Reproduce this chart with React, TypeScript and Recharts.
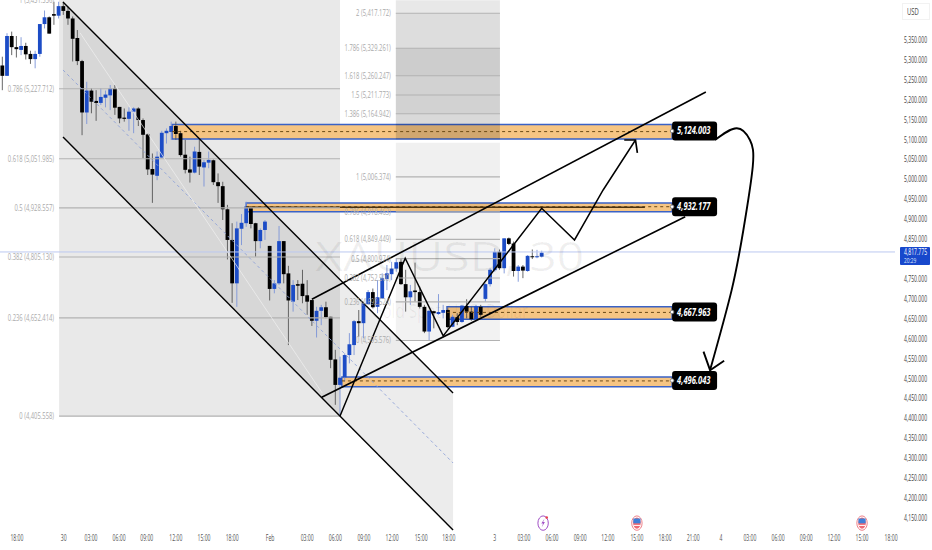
import React from 'react';
import {
  ComposedChart,
  Bar,
  Area,
  Line,
  XAxis,
  YAxis,
  ReferenceArea,
  ReferenceLine,
  ReferenceDot,
} from 'recharts';

// 30 minute candles
const opens = [5286,5260,5360,5332,5325,5335,5315,5302,5315,5390,5407,5415,5411,5435,5423,5404,5355,5297,5168,5223,5197,5192,5205,5211,5228,5182,5155,5152,5170,5178,5149,5113,5026,5009,5055,5116,5119,5134,5116,5062,5025,5017,5069,5030,5042,5048,4993,4983,4925,4848,4739,4876,4890,4930,4890,4845,4873,4833,4725,4739,4845,4764,4693,4737,4738,4709,4697,4645,4670,4679,4655,4548,4484,4503,4559,4584,4644,4639,4687,4717,4680,4701,4750,4762,4776,4793,4737,4704,4721,4717,4680,4618,4669,4662,4665,4672,4630,4654,4642,4682,4668,4649,4680,4700,4737,4772,4818,4777,4852,4839,4770,4781,4770,4807,4805,4806];
const highs = [5308,5367,5371,5360,5357,5343,5323,5323,5390,5424,5409,5446,5446,5446,5434,5409,5375,5300,5245,5229,5224,5229,5223,5237,5237,5182,5178,5181,5181,5181,5153,5116,5065,5070,5122,5128,5145,5145,5122,5099,5057,5082,5099,5049,5070,5050,5015,4994,4936,4890,4894,4913,4944,4932,4891,4877,4898,4833,4747,4883,4845,4783,4747,4747,4773,4747,4697,4680,4685,4693,4655,4572,4555,4563,4614,4647,4672,4693,4722,4726,4747,4764,4785,4793,4802,4802,4773,4735,4791,4731,4685,4672,4670,4712,4685,4676,4660,4664,4685,4699,4680,4685,4685,4739,4777,4827,4824,4852,4854,4844,4785,4785,4810,4824,4823,4821];
const lows = [5224,5260,5312,5306,5312,5301,5290,5279,5308,5379,5366,5388,5404,5413,5388,5296,5287,5111,5139,5166,5147,5187,5181,5174,5162,5141,5145,5122,5116,5134,5053,5011,4941,4998,5053,5090,5099,5099,5057,5015,4992,5015,5011,4982,5028,4986,4941,4898,4799,4690,4680,4835,4881,4877,4806,4827,4848,4696,4714,4735,4739,4584,4668,4697,4689,4660,4632,4603,4634,4651,4526,4434,4404,4492,4538,4559,4605,4601,4685,4676,4664,4701,4722,4747,4768,4735,4668,4685,4693,4676,4614,4595,4626,4660,4651,4626,4629,4634,4640,4651,4645,4645,4655,4693,4731,4768,4773,4764,4835,4756,4743,4752,4768,4800,4802,4804];
const closes = [5260,5360,5332,5327,5335,5314,5302,5315,5390,5407,5366,5411,5435,5423,5404,5353,5297,5168,5223,5195,5192,5207,5213,5228,5180,5153,5152,5170,5178,5149,5112,5025,5012,5057,5117,5122,5134,5114,5061,5024,5017,5070,5032,5043,5049,4993,4983,4925,4848,4739,4877,4891,4932,4888,4845,4873,4894,4725,4739,4845,4762,4696,4735,4733,4707,4693,4645,4670,4679,4654,4547,4484,4502,4559,4586,4644,4639,4689,4717,4679,4704,4752,4764,4776,4792,4737,4704,4719,4717,4680,4618,4670,4664,4667,4672,4629,4655,4642,4683,4668,4649,4682,4660,4737,4773,4818,4777,4852,4838,4770,4781,4771,4808,4805,4807,4816];

const priceTicks = [5350,5300,5250,5200,5150,5100,5050,5000,4950,4900,4850,4750,4700,4650,4600,4550,4500,4450,4400,4350,4300,4250,4200,4150];
const currentPrice = 4817.775;
const countdown = '20:29';

const timeTicks = [3.1,13.1,18.9,24.9,30.8,37,43,49,57.1,65,71,77.1,83.1,89.3,95.2,105,111.2,117.2,123.2,129.1,135.3,141.3,147.3,153.2,159.4,165.4,171.4,177.3,183.3,189.5];
const timeLabels = ['18:00','30','03:00','06:00','09:00','12:00','15:00','18:00','Feb','03:00','06:00','09:00','12:00','15:00','18:00','3','03:00','06:00','09:00','12:00','15:00','18:00','21:00','4','03:00','06:00','09:00','12:00','15:00','18:00'];

const leftFibLevels = [
  { price: 5451.556, text: '1 (5,451.556)' },
  { price: 5227.712, text: '0.786 (5,227.712)' },
  { price: 5051.985, text: '0.618 (5,051.985)' },
  { price: 4928.557, text: '0.5 (4,928.557)' },
  { price: 4805.13, text: '0.382 (4,805.130)' },
  { price: 4652.414, text: '0.236 (4,652.414)' },
  { price: 4405.558, text: '0 (4,405.558)' },
];
const rightFibLevels = [
  { price: 5417.172, text: '2 (5,417.172)' },
  { price: 5329.261, text: '1.786 (5,329.261)' },
  { price: 5260.247, text: '1.618 (5,260.247)' },
  { price: 5211.773, text: '1.5 (5,211.773)' },
  { price: 5164.942, text: '1.386 (5,164.942)' },
  { price: 5006.374, text: '1 (5,006.374)' },
  { price: 4918.463, text: '0.786 (4,918.463)' },
  { price: 4849.449, text: '0.618 (4,849.449)' },
  { price: 4800.974, text: '0.5 (4,800.974)' },
  { price: 4752.5, text: '0.382 (4,752.500)' },
  { price: 4692.524, text: '0.236 (4,692.524)' },
  { price: 4595.576, text: '0 (4,595.576)' },
];
const rightFibZones = [
  { from: 5417.172, to: 5450, alpha: 0.09 },
  { from: 5329.261, to: 5417.172, alpha: 0.135 },
  { from: 5260.247, to: 5329.261, alpha: 0.195 },
  { from: 5211.773, to: 5260.247, alpha: 0.175 },
  { from: 5164.942, to: 5211.773, alpha: 0.175 },
  { from: 5100, to: 5164.942, alpha: 0.15 },
  { from: 5006.374, to: 5092, alpha: 0.06 },
  { from: 4595.576, to: 5006.374, alpha: 0.05 },
];

const zones = [
  { start: 36.2, top: 5137.8, bottom: 5101.4, mid: 5120, labelPrice: 5121.5, text: '5,124.003' },
  { start: 52, top: 4940.7, bottom: 4918.9, mid: 4931.4, labelPrice: 4931.4, text: '4,932.177' },
  { start: 94.8, top: 4680.4, bottom: 4648.8, mid: 4666, labelPrice: 4667, text: '4,667.963' },
  { start: 72.4, top: 4503.9, bottom: 4479.5, mid: 4494, labelPrice: 4495, text: '4,496.043' },
];

const channelFill = [
  { i: 12.94, band: [5106.4, 5445.4] },
  { i: 96.1, band: [4119.7, 4463.7] },
];
const channelUpper = [{ x: 12.94, y: 5445.4 }, { x: 96.1, y: 4463.7 }];
const channelLower = [{ x: 12.94, y: 5106.4 }, { x: 96.1, y: 4119.7 }];
const channelMid = [{ x: 12.94, y: 5274.7 }, { x: 96.1, y: 4288 }];
const channelThin = [{ x: 16.6, y: 5367.5 }, { x: 68.2, y: 4463.7 }];
const wedgeUpper = [{ x: 66, y: 4699 }, { x: 150, y: 5219.4 }];
const wedgeLower = [{ x: 68.1, y: 4452.9 }, { x: 145.6, y: 4906.3 }];

const zigzag = [
  { i: 72, p: 4406 },
  { i: 85.9, p: 4802 },
  { i: 94, p: 4607 },
  { i: 115, p: 4927.4 },
  { i: 122, p: 4848 },
  { i: 128.1, p: 4973.4 },
  { i: 135, p: 5098.9 },
];
const zigzagHead = [{ i: 132.6, p: 5098.9 }, { i: 135, p: 5098.9 }, { i: 135.4, p: 5066.3 }];
const swing = [
  { i: 151.95, p: 5098.9 },
  { i: 156.6, p: 5128.3 },
  { i: 159.4, p: 5098.9 },
  { i: 160, p: 5032 },
  { i: 158, p: 4873 },
  { i: 155.5, p: 4722 },
  { i: 150.9, p: 4521 },
];
const swingHead = [{ i: 149.5, p: 4567.4 }, { i: 150.9, p: 4521 }, { i: 153.9, p: 4544.8 }];

const bolt = { i: 115.3, p: 4137 };
const flags = [{ i: 135.3, p: 4137 }, { i: 183.3, p: 4137 }];

const candleData = opens.map((o, i) => ({
  i,
  o,
  c: closes[i],
  range: [lows[i], highs[i]],
}));

const UP = '#1c4cc6';
const DOWN = '#000000';
const FIB = '#b2b2b2';
const BLUE_EDGE = '#3a62c6';
const X_MIN = -0.497;
const X_MAX = 190.33;
const Y_MIN = 4119.7;
const Y_MAX = 5450.4;

function Candle(props: any) {
  const { x, y, width, height, payload } = props;
  if (height == null || !payload) return null;
  const [low, high] = payload.range;
  const perUnit = height / (high - low);
  const up = payload.c >= payload.o;
  const top = y + (high - Math.max(payload.o, payload.c)) * perUnit;
  const bodyH = Math.max(1, Math.abs(payload.o - payload.c) * perUnit);
  const cx = x + width / 2;
  const color = up ? UP : DOWN;
  return (
    <g>
      <line x1={cx} x2={cx} y1={y} y2={y + height} stroke={up ? '#7c94d8' : '#555'} strokeWidth={0.9} />
      <rect x={cx - 1.9} y={top} width={3.8} height={bodyH} fill={color} />
    </g>
  );
}

// the picture is squeezed sideways, so text is squeezed the same way
function Squeezed({ x, y, text, sx, size, fill, anchor = 'start', weight, italic }: any) {
  return (
    <text
      transform={`translate(${x} ${y}) scale(${sx} 1)`}
      fontFamily="'Open Sans', sans-serif"
      fontSize={size}
      fill={fill}
      textAnchor={anchor}
      fontWeight={weight}
      fontStyle={italic ? 'italic' : undefined}
    >
      {text}
    </text>
  );
}

function PriceTick(props: any) {
  const { y, payload } = props;
  if (payload.value === currentPrice) {
    return (
      <g>
        <rect x={900} y={y - 5} width={30} height={18} fill="#1848cc" rx={1} />
        <Squeezed x={904} y={y + 3} text="4,817.775" sx={0.6} size={8.5} fill="#fff" />
        <Squeezed x={904} y={y + 11} text={countdown} sx={0.6} size={8} fill="#dfe6fa" />
      </g>
    );
  }
  const label = payload.value.toLocaleString('en-US', { minimumFractionDigits: 3 });
  return <Squeezed x={904} y={y + 3} text={label} sx={0.6} size={8.5} fill="#444" />;
}

function TimeTick(props: any) {
  const { x, y, index } = props;
  const text = timeLabels[index] ?? '';
  return <Squeezed x={x} y={y + 3} text={text} sx={0.6} size={8.5} fill="#555" anchor="middle" />;
}

const fibText = (text: string) => (p: any) => (
  <Squeezed x={p.cx - 5} y={p.cy + 3} text={text} sx={0.65} size={9} fill="#aaaaaa" anchor="end" />
);

const zoneTag = (text: string) => (p: any) => (
  <g>
    <rect x={p.cx - 22.5} y={p.cy - 9.5} width={45} height={19} rx={3} fill="#000" />
    <Squeezed x={p.cx - 17.5} y={p.cy + 3.5} text={text} sx={0.72} size={10.5} fill="#fff" weight={700} italic />
    <circle cx={p.cx - 22.5} cy={p.cy} r={1.8} fill="#fff" stroke="#777" strokeWidth={0.8} />
  </g>
);

const watermark = (p: any) => (
  <g fillOpacity={0.06}>
    <Squeezed x={p.cx} y={p.cy} text="XAUUSD, 30" sx={1.2} size={40} fill="#000" anchor="middle" />
    <Squeezed x={p.cx} y={p.cy + 47} text="Gold Spot / U.S. Dollar" sx={0.76} size={20} fill="#000" anchor="middle" />
  </g>
);

const boltIcon = (p: any) => (
  <g>
    <ellipse cx={p.cx} cy={p.cy} rx={5.2} ry={7.2} fill="#fff" stroke="#a14fc6" strokeWidth={1} />
    <path
      d={`M${p.cx + 1.5} ${p.cy - 4.5}L${p.cx - 1.8} ${p.cy + 0.5}L${p.cx} ${p.cy + 0.5}L${p.cx - 1.5} ${p.cy + 4.5}L${p.cx + 1.8} ${p.cy - 1}L${p.cx} ${p.cy - 1}Z`}
      fill="#a14fc6"
    />
    <circle cx={p.cx + 3.6} cy={p.cy - 5.6} r={1.3} fill="#e8404c" />
  </g>
);

const flagIcon = (p: any) => (
  <g>
    <ellipse cx={p.cx} cy={p.cy} rx={5.2} ry={7.2} fill="#fff" stroke="#ef8088" strokeWidth={1} />
    <ellipse cx={p.cx} cy={p.cy} rx={3.8} ry={5.6} fill="#f06a74" />
    <rect x={p.cx - 3.6} y={p.cy - 4.6} width={7.2} height={4.8} fill="#3f7fd8" />
    <rect x={p.cx - 3.4} y={p.cy + 1.8} width={6.8} height={1} fill="#fff" />
  </g>
);

export default function App() {
  return (
    <div style={{ position: 'absolute', left: 0, top: 0, width: 932, height: 550, background: '#fff' }}>
      <div
        style={{
          position: 'absolute', left: 902, top: 3, width: 28, height: 17, border: '1px solid #f2f2f2', boxSizing: 'border-box',
          fontFamily: "'Open Sans', sans-serif", fontSize: 9, color: '#444', lineHeight: '16px', paddingLeft: 4, zIndex: 2,
        }}
      >
        <span style={{ display: 'inline-block', transform: 'scaleX(0.65)', transformOrigin: 'left' }}>USD</span>
      </div>
      <ComposedChart
        width={932}
        height={550}
        data={candleData}
        margin={{ top: 0, right: 0, bottom: 0, left: 0 }}
      >
        <XAxis
          dataKey="i"
          type="number"
          domain={[X_MIN, X_MAX]}
          ticks={timeTicks}
          interval={0}
          allowDataOverflow
          axisLine={false}
          tickLine={false}
          height={20}
          tick={<TimeTick />}
        />
        <YAxis
          type="number"
          orientation="right"
          domain={[Y_MIN, Y_MAX]}
          ticks={[...priceTicks, currentPrice]}
          interval={0}
          allowDataOverflow
          axisLine={false}
          tickLine={false}
          width={37}
          tick={<PriceTick />}
        />

        <ReferenceArea x1={12.1} x2={72} y1={4405.558} y2={5450.4} fill="#000" fillOpacity={0.085} stroke="none" />
        <Area
          data={channelFill}
          dataKey="band"
          stroke="none"
          fill="#000"
          fillOpacity={0.075}
          isAnimationActive={false}
          dot={false}
          activeDot={false}
        />

        {zones.map((z) => (
          <ReferenceArea
            key={z.text}
            x1={z.start}
            x2={142.8}
            y1={z.bottom}
            y2={z.top}
            fill="#f6c27c"
            fillOpacity={0.95}
            stroke={BLUE_EDGE}
            strokeWidth={1.4}
          />
        ))}
        {rightFibZones.map((z) => (
          <ReferenceArea key={z.from} x1={83.9} x2={106.1} y1={z.from} y2={z.to} fill="#000" fillOpacity={z.alpha} stroke="none" />
        ))}
        {zones.map((z) => (
          <ReferenceLine
            key={z.text}
            segment={[{ x: z.start, y: z.mid }, { x: 142.8, y: z.mid }]}
            stroke="#6b4a16"
            strokeWidth={1}
            strokeDasharray="3 3"
          />
        ))}
        <ReferenceLine segment={[{ x: 52, y: 4930 }, { x: 137, y: 4930 }]} stroke="#4a3210" strokeWidth={1.4} />

        {leftFibLevels.map((l) => (
          <ReferenceLine key={l.text} segment={[{ x: 12.1, y: l.price }, { x: 72, y: l.price }]} stroke={FIB} strokeWidth={1.1} ifOverflow="visible" />
        ))}
        {rightFibLevels.map((l) => (
          <ReferenceLine key={l.text} segment={[{ x: 83.9, y: l.price }, { x: 106.1, y: l.price }]} stroke={FIB} strokeWidth={1.1} />
        ))}
        {leftFibLevels.map((l) => (
          <ReferenceDot key={l.text} x={12.1} y={l.price} r={0} ifOverflow="visible" shape={fibText(l.text)} />
        ))}
        {rightFibLevels.map((l) => (
          <ReferenceDot key={l.text} x={83.9} y={l.price} r={0} ifOverflow="visible" shape={fibText(l.text)} />
        ))}

        <ReferenceDot x={95.4} y={4770} r={0} ifOverflow="visible" shape={watermark} />

        <ReferenceLine y={currentPrice} stroke="#bcc8f0" strokeWidth={1} />
        <ReferenceLine segment={channelMid as any} stroke="#8ea2d8" strokeWidth={0.9} strokeDasharray="3 3" />
        <ReferenceLine segment={channelThin as any} stroke="#f0f0f0" strokeWidth={0.7} />

        <Bar dataKey="range" barSize={4} shape={<Candle />} isAnimationActive={false} />

        <ReferenceLine segment={channelUpper as any} stroke="#000" strokeWidth={1.4} ifOverflow="visible" />
        <ReferenceLine segment={channelLower as any} stroke="#000" strokeWidth={1.4} ifOverflow="visible" />
        <ReferenceLine segment={wedgeUpper as any} stroke="#000" strokeWidth={1.6} />
        <ReferenceLine segment={wedgeLower as any} stroke="#000" strokeWidth={1.6} />

        <Line data={zigzag} dataKey="p" type="linear" stroke="#000" strokeWidth={1.5} dot={false} activeDot={false} isAnimationActive={false} />
        <Line data={zigzagHead} dataKey="p" type="linear" stroke="#000" strokeWidth={1.7} dot={false} activeDot={false} isAnimationActive={false} />
        <Line data={swing} dataKey="p" type="natural" stroke="#000" strokeWidth={1.9} dot={false} activeDot={false} isAnimationActive={false} />
        <Line data={swingHead} dataKey="p" type="linear" stroke="#000" strokeWidth={1.9} dot={false} activeDot={false} isAnimationActive={false} />

        {zones.map((z) => (
          <ReferenceDot key={z.text} x={147.6} y={z.labelPrice} r={0} shape={zoneTag(z.text)} />
        ))}

        <ReferenceDot x={bolt.i} y={bolt.p} r={0} shape={boltIcon} />
        {flags.map((f) => (
          <ReferenceDot key={f.i} x={f.i} y={f.p} r={0} shape={flagIcon} />
        ))}
      </ComposedChart>
    </div>
  );
}
